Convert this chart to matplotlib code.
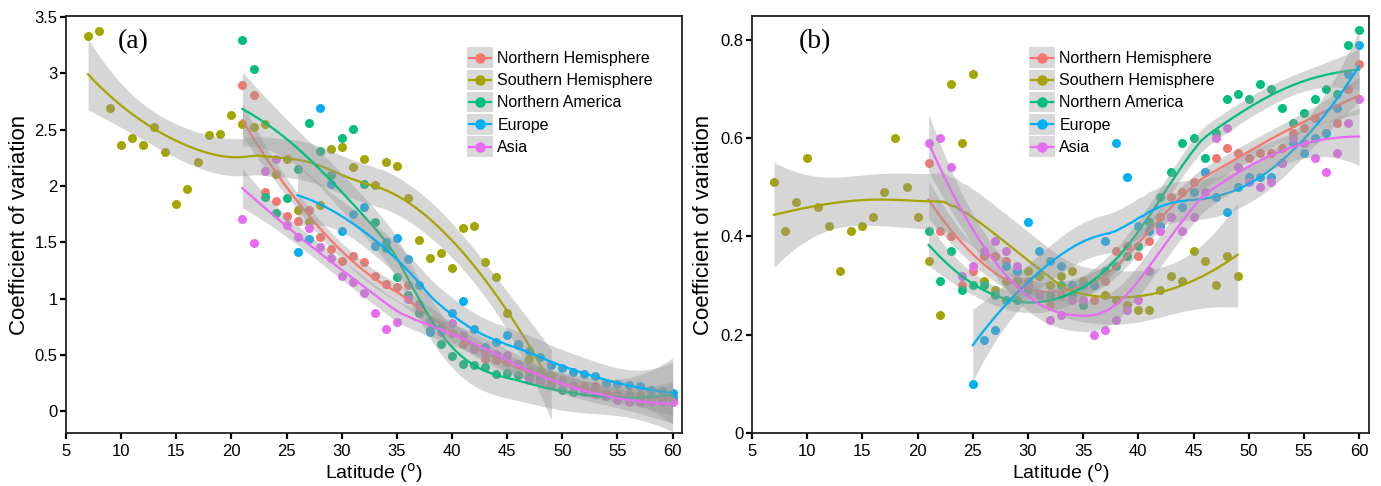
import numpy as np
import matplotlib
matplotlib.use("Agg")
import matplotlib.pyplot as plt
from matplotlib.patches import Rectangle
from matplotlib.lines import Line2D

plt.rcParams['font.family'] = ['Liberation Sans', 'DejaVu Sans']

# ---- data (latitude in degrees, coefficient of variation) ----
series_names = ['Northern Hemisphere', 'Southern Hemisphere', 'Northern America', 'Europe', 'Asia']
series_colors = ['#F8766D', '#A3A500', '#00BF7D', '#00B0F6', '#E76BF3']

# panel (a)
a_nh_lat = np.arange(21, 61)
a_nh = [2.90, 2.81, 1.95, 1.87, 1.73, 1.69, 1.79, 1.55, 1.44, 1.33,
        1.38, 1.32, 1.20, 1.13, 1.10, 1.12, 0.95, 0.80, 0.72, 0.69,
        0.60, 0.56, 0.46, 0.45, 0.44, 0.42, 0.36, 0.30, 0.28, 0.28,
        0.23, 0.22, 0.22, 0.16, 0.15, 0.15, 0.14, 0.10, 0.10, 0.10]
a_sh_lat = np.arange(7, 50)
a_sh = [3.33, 3.38, 2.69, 2.36, 2.43, 2.36, 2.52, 2.30, 1.84, 1.97,
        2.21, 2.45, 2.46, 2.63, 2.55, 2.52, 2.55, 2.11, 2.24, 1.79,
        1.68, 1.83, 2.33, 2.35, 2.17, 2.24, 2.01, 2.21, 2.18, 1.89,
        1.52, 1.36, 1.40, 1.27, 1.63, 1.64, 1.32, 1.19, 0.87, 0.59,
        0.46, 0.35, 0.31]
a_na_lat = np.arange(21, 61)
a_na = [3.30, 3.04, 1.90, 1.76, 1.89, 2.15, 2.56, 2.31, 2.10, 2.43,
        2.51, 2.02, 1.68, 1.45, 1.19, 1.03, 0.87, 0.72, 0.60, 0.49,
        0.42, 0.41, 0.39, 0.33, 0.34, 0.32, 0.30, 0.27, 0.23, 0.19,
        0.17, 0.17, 0.16, 0.13, 0.13, 0.13, 0.12, 0.13, 0.12, 0.12]
a_eu_lat = np.arange(26, 61)
a_eu = [1.41, 1.53, 2.69, 2.02, 1.60, 1.75, 1.81, 1.47, 1.50, 1.54,
        1.35, 1.12, 0.70, 0.75, 0.87, 0.98, 0.73, 0.57, 0.61, 0.68,
        0.60, 0.53, 0.48, 0.41, 0.38, 0.35, 0.33, 0.31, 0.25, 0.24,
        0.23, 0.22, 0.19, 0.18, 0.16]
a_as_lat = np.arange(21, 61)
a_as = [1.71, 1.49, 2.13, 2.24, 1.65, 1.55, 1.63, 1.46, 1.36, 1.20,
        1.15, 1.05, 0.87, 0.73, 0.79, 1.00, 0.93, 0.80, 0.70, 0.78,
        0.68, 0.55, 0.52, 0.51, 0.50, 0.42, 0.28, 0.26, 0.26, 0.25,
        0.22, 0.17, 0.15, 0.13, 0.10, 0.08, 0.08, 0.08, 0.08, 0.08]

# panel (b)
b_nh_lat = np.arange(21, 61)
b_nh = [0.55, 0.41, 0.40, 0.30, 0.33, 0.36, 0.36, 0.35, 0.33, 0.31,
        0.28, 0.26, 0.28, 0.30, 0.27, 0.27, 0.31, 0.37, 0.38, 0.36,
        0.39, 0.44, 0.48, 0.49, 0.51, 0.53, 0.56, 0.58, 0.57, 0.56,
        0.57, 0.57, 0.58, 0.61, 0.62, 0.64, 0.61, 0.63, 0.70, 0.75]
b_sh_lat = np.arange(7, 50)
b_sh = [0.51, 0.41, 0.47, 0.56, 0.46, 0.42, 0.33, 0.41, 0.42, 0.44,
        0.49, 0.60, 0.50, 0.44, 0.35, 0.24, 0.71, 0.59, 0.73, 0.31,
        0.29, 0.31, 0.31, 0.33, 0.32, 0.30, 0.32, 0.33, 0.31, 0.30,
        0.28, 0.27, 0.26, 0.25, 0.25, 0.29, 0.32, 0.31, 0.37, 0.35,
        0.30, 0.36, 0.32]
b_na_lat = np.arange(21, 61)
b_na = [0.41, 0.31, 0.37, 0.29, 0.30, 0.30, 0.28, 0.27, 0.27, 0.29,
        0.28, 0.28, 0.30, 0.28, 0.26, 0.30, 0.33, 0.34, 0.36, 0.38,
        0.43, 0.48, 0.53, 0.59, 0.60, 0.56, 0.61, 0.68, 0.69, 0.68,
        0.71, 0.70, 0.66, 0.63, 0.65, 0.68, 0.70, 0.69, 0.79, 0.82]
b_eu_lat = np.arange(25, 61)
b_eu = [0.10, 0.19, 0.21, 0.34, 0.33, 0.43, 0.37, 0.35, 0.34, 0.30,
        0.30, 0.30, 0.39, 0.59, 0.52, 0.42, 0.41, 0.42, 0.44, 0.46,
        0.49, 0.53, 0.48, 0.45, 0.50, 0.52, 0.52, 0.52, 0.55, 0.59,
        0.57, 0.60, 0.61, 0.66, 0.73, 0.79]
b_as_lat = np.arange(21, 61)
b_as = [0.59, 0.60, 0.54, 0.32, 0.34, 0.37, 0.39, 0.37, 0.34, 0.30,
        0.28, 0.23, 0.24, 0.27, 0.27, 0.20, 0.21, 0.23, 0.25, 0.27,
        0.33, 0.41, 0.44, 0.41, 0.44, 0.49, 0.60, 0.62, 0.54, 0.51,
        0.50, 0.51, 0.55, 0.60, 0.59, 0.56, 0.53, 0.57, 0.63, 0.68]

x_ticks = [5, 10, 15, 20, 25, 30, 35, 40, 45, 50, 55, 60]
a_yticks = [0, 0.5, 1, 1.5, 2, 2.5, 3, 3.5]
a_yticklabels = ['0', '0.5', '1', '1.5', '2', '2.5', '3', '3.5']
b_yticks = [0, 0.2, 0.4, 0.6, 0.8]
b_yticklabels = ['0', '0.2', '0.4', '0.6', '0.8']


def loess(x, y, xs, span=0.75):
    # local quadratic fit with tricube weights, as ggplot's geom_smooth (loess) does
    x = np.asarray(x, float)
    y = np.asarray(y, float)
    n = len(x)
    q = int(np.floor(n * span))

    def row(x0):
        d = np.abs(x - x0)
        h = np.sort(d)[q - 1]
        u = np.clip(d / h, 0, 1)
        w = (1 - u ** 3) ** 3
        X = np.column_stack([np.ones(n), x - x0, (x - x0) ** 2])
        XtW = X.T * w
        return np.linalg.solve(XtW @ X, XtW)[0]

    L = np.array([row(v) for v in x])
    res = y - L @ y
    IL = np.eye(n) - L
    M = IL.T @ IL
    d1 = np.trace(M)
    d2 = np.trace(M @ M)
    sigma = np.sqrt(np.sum(res ** 2) / d1)
    df = d1 ** 2 / d2
    Ls = np.array([row(v) for v in xs])
    fit = Ls @ y
    se = sigma * np.sqrt(np.sum(Ls ** 2, axis=1))
    z = 1.959964
    t = z + (z ** 3 + z) / (4 * df) + (5 * z ** 5 + 16 * z ** 3 + 3 * z) / (96 * df ** 2)
    return fit, fit - t * se, fit + t * se


class KeyHandler:
    # ggplot-style legend key: grey square with the coloured line and point on it
    def legend_artist(self, legend, orig_handle, fontsize, handlebox):
        x0, y0 = -handlebox.xdescent, -handlebox.ydescent
        w, h = handlebox.width, handlebox.height
        c = orig_handle.get_color()
        tr = handlebox.get_transform()
        box = Rectangle((x0, y0), w, h, facecolor='#d9d9d9', edgecolor='none', transform=tr)
        ln = Line2D([x0 + 0.08 * w, x0 + 0.92 * w], [y0 + h / 2] * 2, color=c, lw=1.6, transform=tr)
        pt = Line2D([x0 + w / 2], [y0 + h / 2], color=c, marker='o', ms=7.5,
                    markeredgewidth=0, transform=tr)
        for a in (box, ln, pt):
            handlebox.add_artist(a)
        return box


def draw_panel(ax, data, ylim, yticks, yticklabels, xlim, tag, tag_x, leg_x):
    for (lat, val), c in zip(data, series_colors):
        ax.scatter(lat, val, s=42, color=c, linewidths=0, zorder=2)
    for (lat, val), c in zip(data, series_colors):
        xs = np.linspace(lat[0], lat[-1], 80)
        fit, lo, hi = loess(lat, val, xs)
        ax.fill_between(xs, lo, hi, color='#999999', alpha=0.4, linewidth=0, zorder=3)
        ax.plot(xs, fit, color=c, lw=1.6, zorder=3)

    ax.set_xlim(*xlim)
    ax.set_ylim(*ylim)
    ax.set_xticks(x_ticks)
    ax.set_yticks(yticks)
    ax.set_yticklabels(yticklabels)
    ax.tick_params(direction='out', length=4, width=1.6, labelsize=12, pad=2, colors='black')
    ax.tick_params(axis='x', pad=4)
    for s in ax.spines.values():
        s.set_linewidth(1.3)
        s.set_color('#222222')
    ax.set_xlabel('Latitude ($^{\\mathrm{o}}$)', fontsize=14)
    ax.set_ylabel('Coefficient of variation', fontsize=16)
    ax.xaxis.set_label_coords(0.5, -0.066)
    ax.text(tag_x, 0.938, tag, transform=ax.transAxes, fontsize=20,
            family='Liberation Serif', ha='center', va='center')

    handles = [Line2D([0], [0], color=c) for c in series_colors]
    ax.legend(handles, series_names, handler_map={Line2D: KeyHandler()},
              loc='upper left', frameon=False, fontsize=11.5, borderpad=0,
              handlelength=1.6, handleheight=1.6, labelspacing=0.11, handletextpad=0.3,
              borderaxespad=0, bbox_to_anchor=(leg_x, 0.925))


fig = plt.figure(figsize=(13.81, 4.86), dpi=100)
ax_a = fig.add_axes([66 / 1381, 53 / 486, 616 / 1381, 417 / 486])
ax_b = fig.add_axes([752 / 1381, 53 / 486, 617 / 1381, 417 / 486])

data_a = [(a_nh_lat, a_nh), (a_sh_lat, a_sh), (a_na_lat, a_na), (a_eu_lat, a_eu), (a_as_lat, a_as)]
data_b = [(b_nh_lat, b_nh), (b_sh_lat, b_sh), (b_na_lat, b_na), (b_eu_lat, b_eu), (b_as_lat, b_as)]

draw_panel(ax_a, data_a, (-0.195, 3.51), a_yticks, a_yticklabels, (5, 60.85), '(a)', 0.109, 0.651)
draw_panel(ax_b, data_b, (0, 0.848), b_yticks, b_yticklabels, (5, 60.9), '(b)', 0.102, 0.449)
ax_a.yaxis.set_label_coords(-0.058, 0.5)
ax_b.yaxis.set_label_coords(-0.062, 0.5)

fig.savefig('out.png', dpi=100)
